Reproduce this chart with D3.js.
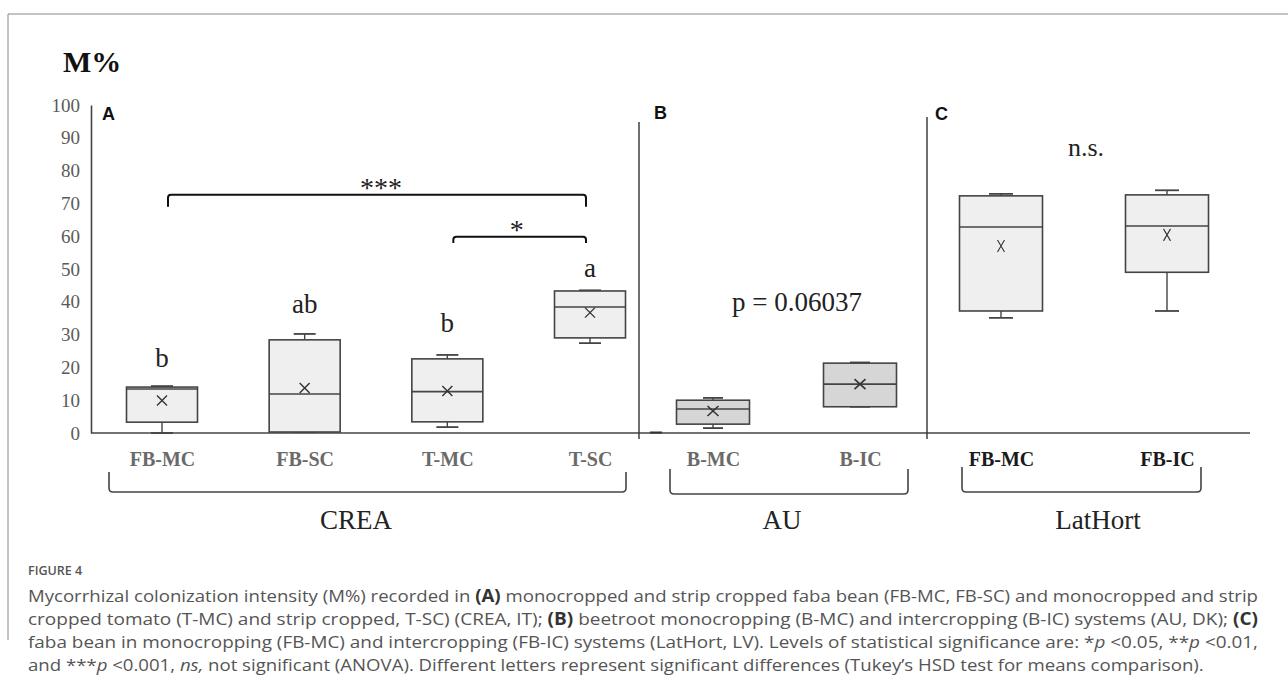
<!DOCTYPE html>
<html>
<head>
<meta charset="utf-8">
<script src="https://cdn.jsdelivr.net/npm/d3@7"></script>
<style>
  body { margin: 0; background: #fff; }
  svg { display: block; }
</style>
</head>
<body>
<div id="chart"></div>
<script>
// y axis ticks
const yTicks = [0, 10, 20, 30, 40, 50, 60, 70, 80, 90, 100];

// panel A - CREA
const catsA = ["FB-MC", "FB-SC", "T-MC", "T-SC"];
const minA = [0, 0.3, 1.8, 27.4];
const q1A = [3.3, 0.3, 3.4, 29];
const medA = [13.4, 11.9, 12.6, 38.4];
const q3A = [14, 28.4, 22.6, 43.3];
const maxA = [14.3, 30.2, 23.8, 43.5];
const meanA = [9.9, 13.7, 12.8, 36.7];
const lettersA = ["b", "ab", "b", "a"];
const letterPosA = [20, 36.6, 30.8, 47.6];

// panel B - AU
const catsB = ["B-MC", "B-IC"];
const minB = [1.5, 8.0];
const q1B = [2.7, 8.0];
const medB = [7.3, 14.9];
const q3B = [10.0, 21.3];
const maxB = [10.7, 21.5];
const meanB = [6.7, 14.9];

// panel C - LatHort
const catsC = ["FB-MC", "FB-IC"];
const minC = [35.1, 37.2];
const q1C = [37.2, 49.0];
const medC = [62.8, 63.1];
const q3C = [72.3, 72.6];
const maxC = [72.9, 74.0];
const meanC = [57.0, 60.4];

const W = 1288, H = 682;
const svg = d3.select("#chart").append("svg")
    .attr("width", W)
    .attr("height", H);

const serif = "'Liberation Serif', 'Times New Roman', serif";
const sans = "'Liberation Sans', Arial, sans-serif";
const ink = "#444";

// frame round the figure
svg.append("line").attr("x1", 8).attr("x2", W).attr("y1", 14).attr("y2", 14)
    .attr("stroke", "#888").attr("stroke-width", 1);
svg.append("line").attr("x1", 8).attr("x2", 8).attr("y1", 14).attr("y2", 640)
    .attr("stroke", "#888").attr("stroke-width", 1);

const y = d3.scaleLinear().domain([0, 100]).range([433, 105]);

const xA = d3.scalePoint().domain(catsA).range([162, 590]);
const xB = d3.scalePoint().domain(catsB).range([713, 860]);
const xC = d3.scalePoint().domain(catsC).range([1001, 1167]);

// y axis
const yAxis = svg.append("g")
    .attr("transform", "translate(91,0)")
    .call(d3.axisLeft(y).tickValues(yTicks).tickSize(0).tickSizeOuter(0).tickPadding(11));
yAxis.select(".domain").attr("stroke", ink).attr("stroke-width", 1.6);
yAxis.selectAll("text")
    .style("font-family", serif)
    .style("font-size", "19px")
    .attr("fill", "#5a5a5a");

// M% title
svg.append("text")
    .attr("x", 63).attr("y", 72)
    .style("font-family", serif)
    .style("font-size", "30px")
    .style("font-weight", "bold")
    .attr("fill", "#111")
    .text("M%");

// baseline + panel dividers
const x0 = y(0);
svg.append("line").attr("x1", 91).attr("x2", 1250).attr("y1", x0).attr("y2", x0)
    .attr("stroke", ink).attr("stroke-width", 1.6);
svg.append("line").attr("x1", 650).attr("x2", 662).attr("y1", x0 - 0.5).attr("y2", x0 - 0.5)
    .attr("stroke", "#333").attr("stroke-width", 2);

const panels = [
    { letter: "A", divider: null, lx: 102, ly: 120 },
    { letter: "B", divider: 639, top: 122, lx: 654, ly: 119 },
    { letter: "C", divider: 927, top: 117, lx: 935, ly: 120 }
];
panels.forEach(p => {
    if (p.divider) {
        svg.append("line")
            .attr("x1", p.divider).attr("x2", p.divider)
            .attr("y1", p.top).attr("y2", x0 + 6)
            .attr("stroke", "#333").attr("stroke-width", 1.4);
    }
    svg.append("text")
        .attr("x", p.lx).attr("y", p.ly)
        .style("font-family", sans)
        .style("font-size", "18px")
        .style("font-weight", "bold")
        .attr("fill", "#111")
        .text(p.letter);
});

function drawBoxes(x, cats, mins, q1s, meds, q3s, maxs, means, opts) {
    const g = svg.append("g");
    const rows = cats.map((c, i) => ({
        cat: c, min: mins[i], q1: q1s[i], med: meds[i], q3: q3s[i], max: maxs[i], mean: means[i]
    }));
    const hw = opts.boxW / 2, cw = opts.capW / 2;

    rows.forEach(d => {
        const cx = x(d.cat);
        // whiskers
        g.append("line").attr("x1", cx).attr("x2", cx).attr("y1", y(d.max)).attr("y2", y(d.q3))
            .attr("stroke", ink).attr("stroke-width", 1.4);
        g.append("line").attr("x1", cx).attr("x2", cx).attr("y1", y(d.q1)).attr("y2", y(d.min))
            .attr("stroke", ink).attr("stroke-width", 1.4);
        [d.min, d.max].forEach(v => {
            g.append("line").attr("x1", cx - cw).attr("x2", cx + cw).attr("y1", y(v)).attr("y2", y(v))
                .attr("stroke", ink).attr("stroke-width", 1.8);
        });
        // box
        g.append("rect")
            .attr("x", cx - hw).attr("width", opts.boxW)
            .attr("y", y(d.q3)).attr("height", y(d.q1) - y(d.q3))
            .attr("fill", opts.fill)
            .attr("stroke", ink).attr("stroke-width", 1.6);
        g.append("line").attr("x1", cx - hw).attr("x2", cx + hw).attr("y1", y(d.med)).attr("y2", y(d.med))
            .attr("stroke", ink).attr("stroke-width", 1.6);
        // mean marker
        const my = y(d.mean);
        const mx = opts.mark[0], myh = opts.mark[1];
        g.append("path")
            .attr("d", `M${cx - mx},${my - myh}L${cx + mx},${my + myh}M${cx + mx},${my - myh}L${cx - mx},${my + myh}`)
            .attr("stroke", "#333").attr("stroke-width", opts.markW).attr("fill", "none");
    });
}

drawBoxes(xA, catsA, minA, q1A, medA, q3A, maxA, meanA,
    { boxW: 71, capW: 22, fill: "#efefef", mark: [5, 5], markW: 1.4 });
drawBoxes(xB, catsB, minB, q1B, medB, q3B, maxB, meanB,
    { boxW: 73, capW: 20, fill: "#d6d6d6", mark: [5.5, 5], markW: 1.6 });
drawBoxes(xC, catsC, minC, q1C, medC, q3C, maxC, meanC,
    { boxW: 83, capW: 24, fill: "#efefef", mark: [3.5, 6], markW: 1.1 });

// Tukey letters
catsA.forEach((c, i) => {
    svg.append("text")
        .attr("x", xA(c)).attr("y", y(letterPosA[i]))
        .attr("text-anchor", "middle")
        .style("font-family", serif)
        .style("font-size", "27px")
        .attr("fill", "#222")
        .text(lettersA[i]);
});

// significance brackets
const brackets = [
    { from: "FB-MC", to: "T-SC", level: 72.6, drop: 3.6, label: "***", dx: 4 },
    { from: "T-MC", to: "T-SC", level: 59.8, drop: 1.9, label: "*", dx: -3 }
];
brackets.forEach(b => {
    const x1 = xA(b.from) + 6, x2 = xA(b.to) - 4;
    const yl = y(b.level), yd = y(b.level - b.drop);
    svg.append("path")
        .attr("d", `M${x1},${yd}V${yl + 3}Q${x1},${yl} ${x1 + 3},${yl}H${x2 - 3}Q${x2},${yl} ${x2},${yl + 3}V${yd}`)
        .attr("fill", "none").attr("stroke", "#111").attr("stroke-width", 2);
    svg.append("text")
        .attr("x", (x1 + x2) / 2 + b.dx).attr("y", yl + 2)
        .attr("text-anchor", "middle")
        .style("font-family", serif)
        .style("font-size", "28px")
        .attr("fill", "#222")
        .text(b.label);
});

// p value and n.s.
svg.append("text")
    .attr("x", 797).attr("y", y(37.3))
    .attr("text-anchor", "middle")
    .style("font-family", serif)
    .style("font-size", "27px")
    .attr("fill", "#222")
    .text("p = 0.06037");
svg.append("text")
    .attr("x", 1086).attr("y", y(84.5))
    .attr("text-anchor", "middle")
    .style("font-family", serif)
    .style("font-size", "26px")
    .attr("fill", "#222")
    .text("n.s.");

// category labels
[[xA, "#6a6a6a"], [xB, "#6a6a6a"], [xC, "#1a1a1a"]].forEach(([sc, col]) => {
    const ax = svg.append("g")
        .attr("transform", `translate(0,${x0})`)
        .call(d3.axisBottom(sc).tickSize(0).tickPadding(19));
    ax.select(".domain").remove();
    ax.selectAll("text")
        .style("font-family", serif)
        .style("font-size", "20px")
        .style("font-weight", "bold")
        .attr("fill", col);
});

// site braces
const sites = [
    { name: "CREA", x1: 109, x2: 626, top: 472, bot: 492, lx: 356 },
    { name: "AU", x1: 670, x2: 908, top: 469, bot: 494, lx: 782 },
    { name: "LatHort", x1: 962, x2: 1201, top: 467, bot: 492, lx: 1098 }
];
sites.forEach(s => {
    svg.append("path")
        .attr("d", `M${s.x1},${s.top}V${s.bot - 4}Q${s.x1},${s.bot} ${s.x1 + 4},${s.bot}H${s.x2 - 4}Q${s.x2},${s.bot} ${s.x2},${s.bot - 4}V${s.top}`)
        .attr("fill", "none").attr("stroke", "#444").attr("stroke-width", 1.6);
    svg.append("text")
        .attr("x", s.lx).attr("y", 529)
        .attr("text-anchor", "middle")
        .style("font-family", serif)
        .style("font-size", "27px")
        .attr("fill", "#222")
        .text(s.name);
});

// caption
svg.append("text")
    .attr("x", 28).attr("y", 575)
    .style("font-family", "'Open Sans', sans-serif")
    .style("font-size", "12.5px")
    .style("font-weight", "600")
    .attr("fill", "#555")
    .text("FIGURE 4");

const captionLines = [
    [["Mycorrhizal colonization intensity (M%) recorded in ", ""], ["(A)", "b"], [" monocropped and strip cropped faba bean (FB-MC, FB-SC) and monocropped and strip", ""]],
    [["cropped tomato (T-MC) and strip cropped, T-SC) (CREA, IT); ", ""], ["(B)", "b"], [" beetroot monocropping (B-MC) and intercropping (B-IC) systems (AU, DK); ", ""], ["(C)", "b"]],
    [["faba bean in monocropping (FB-MC) and intercropping (FB-IC) systems (LatHort, LV). Levels of statistical significance are: *", ""], ["p", "i"], [" <0.05, **", ""], ["p", "i"], [" <0.01,", ""]],
    [["and ***", ""], ["p", "i"], [" <0.001, ", ""], ["ns,", "i"], [" not significant (ANOVA). Different letters represent significant differences (Tukey\u2019s HSD test for means comparison).", ""]]
];
const capNodes = captionLines.map((parts, i) => {
    const t = svg.append("text")
        .attr("x", 28).attr("y", 602 + i * 23)
        .style("font-family", "'Open Sans', sans-serif")
        .style("font-size", "17px")
        .attr("fill", "#555");
    parts.forEach(([str, st]) => {
        const ts = t.append("tspan").text(str);
        if (st === "b") ts.style("font-weight", "bold").attr("fill", "#333");
        if (st === "i") ts.style("font-style", "italic");
    });
    return t;
});
const ratio = 1230 / capNodes[0].node().getComputedTextLength();
capNodes.forEach((t, i) => {
    const len = i < 3 ? 1230 : t.node().getComputedTextLength() * ratio;
    t.attr("textLength", len).attr("lengthAdjust", "spacingAndGlyphs");
});
</script>
</body>
</html>
